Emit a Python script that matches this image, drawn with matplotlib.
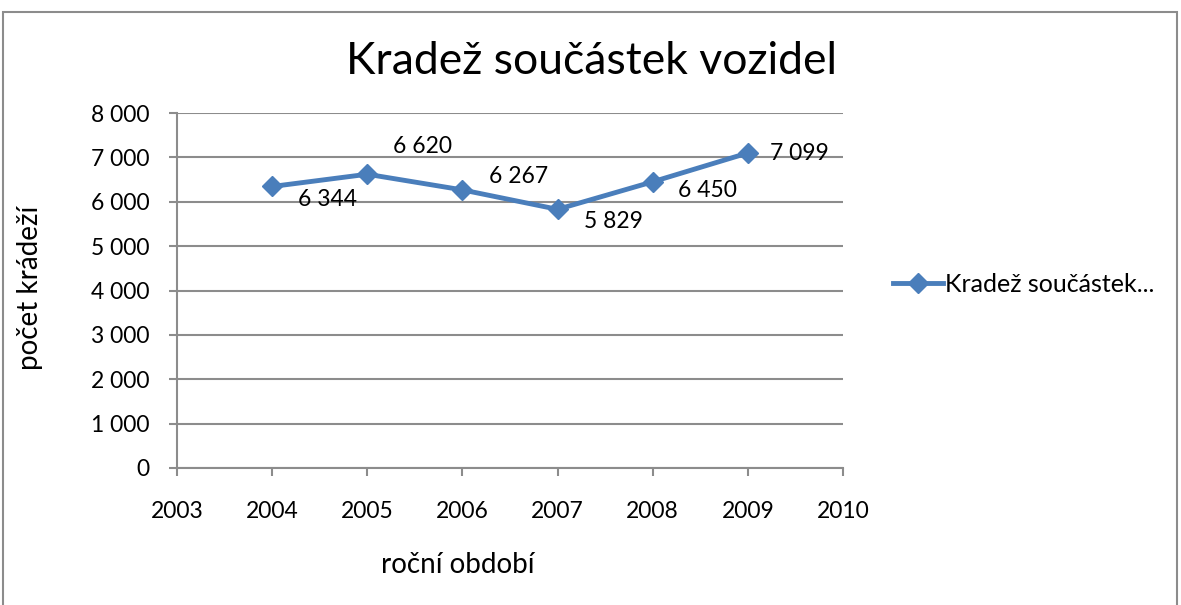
import matplotlib
matplotlib.use("Agg")
import matplotlib.pyplot as plt
from matplotlib.patches import Rectangle

years = [2004, 2005, 2006, 2007, 2008, 2009]
thefts = [6344, 6620, 6267, 5829, 6450, 7099]
value_labels = ["6 344", "6 620", "6 267", "5 829", "6 450", "7 099"]
# label offsets in pixels (dx, dy)
label_offsets = [(55, -13), (55, 28), (56, 13), (56, -12), (55, -9), (52, -1)]
x_ticks = [2003, 2004, 2005, 2006, 2007, 2008, 2009, 2010]
y_ticks = [0, 1000, 2000, 3000, 4000, 5000, 6000, 7000, 8000]
y_tick_labels = ["0", "1 000", "2 000", "3 000", "4 000", "5 000", "6 000", "7 000", "8 000"]

plt.rcParams["font.family"] = ["Lato", "DejaVu Sans"]

W, H = 1181, 605
fig = plt.figure(figsize=(W / 100, H / 100), dpi=100)
ax = fig.add_axes([177 / W, 1 - 468 / H, (843 - 177) / W, (468 - 113) / H])

blue = "#4A7EBB"
line, = ax.plot(years, thefts, color=blue, lw=3.5, marker="D", ms=10, label="Kradež součástek...")

for x, y, lab, (dx, dy) in zip(years, thefts, value_labels, label_offsets):
    ax.annotate(lab, (x, y), xytext=(dx, dy), textcoords="offset pixels",
                ha="center", va="center", fontsize=16.5)

ax.set_xlim(2003, 2010)
ax.set_ylim(0, 8000)
ax.set_xticks(x_ticks)
ax.set_xticklabels([str(t) for t in x_ticks], fontsize=16.5)
ax.set_yticks(y_ticks)
ax.set_yticklabels(y_tick_labels, fontsize=16.5)
ax.yaxis.grid(True, color="#8C8C8C", lw=1.5)
ax.set_axisbelow(True)
for s in ["top", "right"]:
    ax.spines[s].set_visible(False)
for s in ["left", "bottom"]:
    ax.spines[s].set_color("#8C8C8C")
    ax.spines[s].set_linewidth(1.5)
ax.tick_params(axis="both", color="#8C8C8C", width=1.5, length=6, direction="out")
ax.tick_params(axis="x", pad=18)
ax.tick_params(axis="y", pad=14)

fig.text(458 / W, 1 - 565 / H, "roční období", fontsize=20, ha="center", va="center")
fig.text(30 / W, 1 - 288 / H, "počet krádeží", fontsize=20, ha="center", va="center", rotation=90)
fig.text(592 / W, 1 - 62 / H, "Kradež součástek vozidel", fontsize=32, ha="center", va="center")

fig.legend(handles=[line], loc="center left", bbox_to_anchor=(880 / W, 1 - 284 / H),
           frameon=False, fontsize=18, handlelength=2.0, handletextpad=0.1, borderpad=0)

fig.patches.append(Rectangle((3 / W, -0.05), 1174 / W, 1 - 12 / H + 0.05,
                             transform=fig.transFigure, fill=False, ec="#8C8C8C", lw=1.5))

fig.savefig("out.png", dpi=100)
